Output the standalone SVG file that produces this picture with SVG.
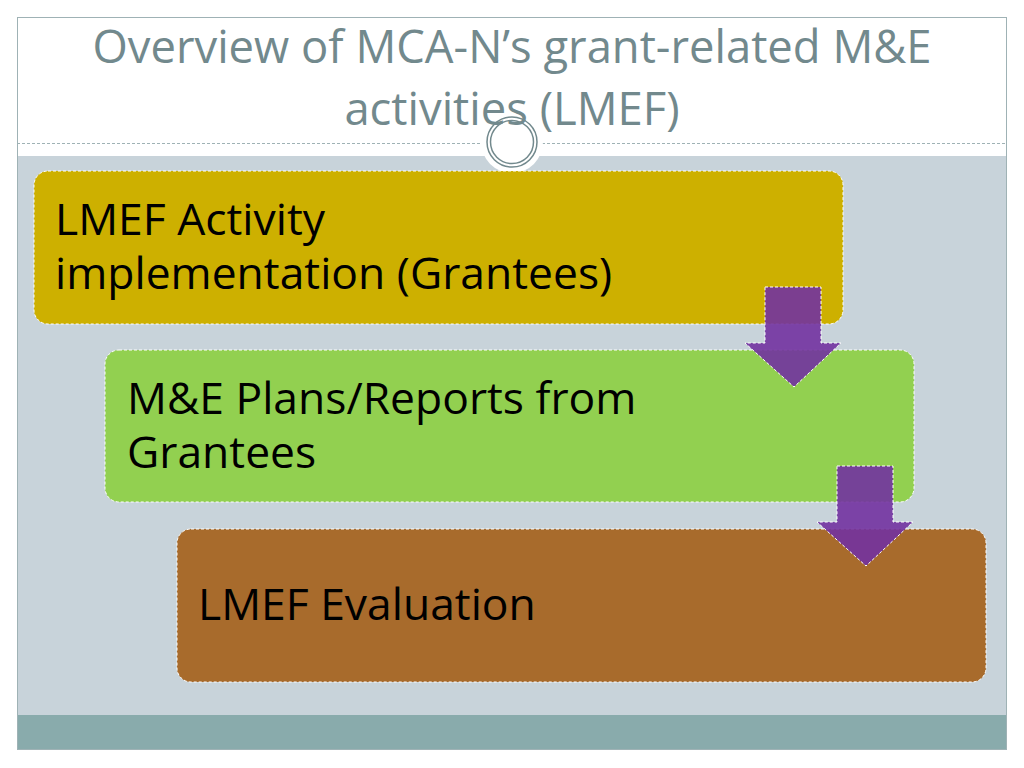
<svg xmlns="http://www.w3.org/2000/svg" width="1024" height="768" viewBox="0 0 1024 768">
<defs>
<style>
.title{font-family:"Open Sans","Liberation Sans",sans-serif;font-size:45.4px;fill:#72898D;text-anchor:middle}
.lbl{font-family:"Open Sans","Liberation Sans",sans-serif;font-size:44.4px;fill:#000}
.box{stroke:#FFFFFF;stroke-width:1;stroke-dasharray:3 2}
.arrow{fill:#7232A0;fill-opacity:0.9;stroke:#FFFFFF;stroke-width:1;stroke-dasharray:3 2}
</style>
</defs>
<rect x="0" y="0" width="1024" height="768" fill="#FFFFFF"/>
<g id="frame">
<rect x="17" y="156" width="990" height="559" fill="#C8D3DA"/>
<rect x="17" y="715" width="990" height="35" fill="#89ABAC"/>
<rect x="17.5" y="17.5" width="989" height="732" fill="none" stroke="#9FB2B5" stroke-width="1"/>
<line x1="17" y1="143.5" x2="1007" y2="143.5" stroke="#9FB2B5" stroke-width="1" stroke-dasharray="3 2"/>
<circle cx="512" cy="142" r="31" fill="#FFFFFF"/>
<circle cx="512" cy="142" r="25" fill="none" stroke="#72898D" stroke-width="1.5"/>
<circle cx="512" cy="142" r="21.5" fill="none" stroke="#72898D" stroke-width="1.5"/>
</g>
<g id="title">
<text class="title"><tspan x="512" y="63">Overview of MCA-N’s grant-related M&amp;E</tspan><tspan x="512" y="125">activities (LMEF)</tspan></text>
</g>
<g id="node1">
<rect class="box" x="34" y="171" width="809" height="153" rx="14" fill="#CDB000"/>
<text class="lbl"><tspan x="55" y="235">LMEF Activity</tspan><tspan x="55" y="289">implementation (Grantees)</tspan></text>
</g>
<g id="node2">
<rect class="box" x="105" y="350" width="809" height="152" rx="14" fill="#92D050"/>
<text class="lbl"><tspan x="127" y="414">M&amp;E Plans/Reports from</tspan><tspan x="127" y="468">Grantees</tspan></text>
</g>
<g id="node3">
<rect class="box" x="177" y="529" width="809" height="153" rx="14" fill="#A86B2C"/>
<text class="lbl" x="198" y="620">LMEF Evaluation</text>
</g>
<g id="connectors">
<polygon class="arrow" points="765,287 821,287 821,343 841,343 794,387 745,343 765,343"/>
<polygon class="arrow" points="837,466 893,466 893,522 913,522 866,566 817,522 837,522"/>
</g>
</svg>
